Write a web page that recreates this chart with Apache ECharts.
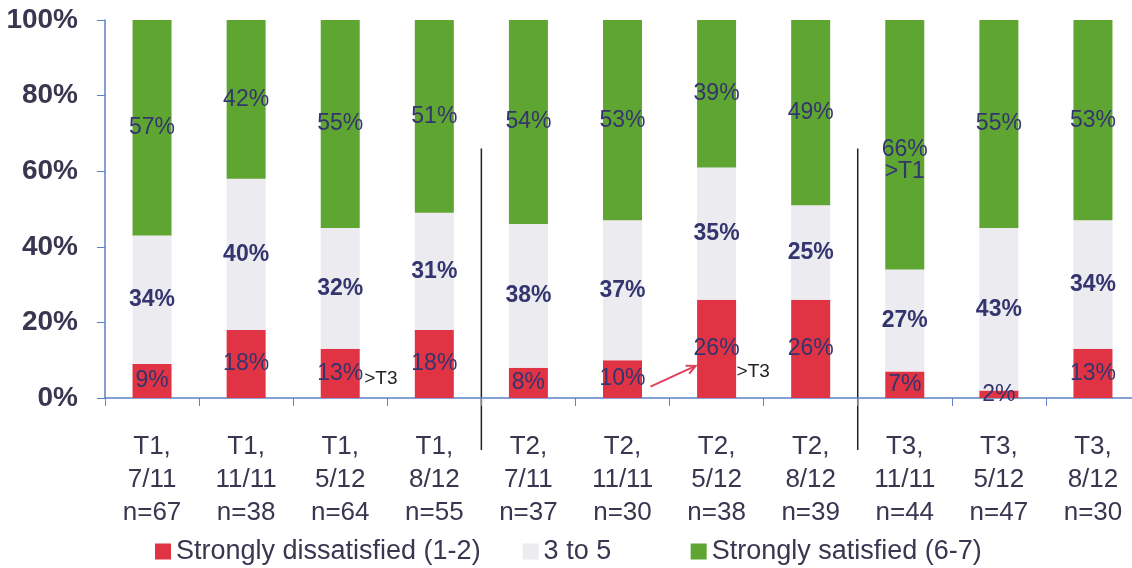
<!DOCTYPE html>
<html>
<head>
<meta charset="utf-8">
<script src="https://cdn.jsdelivr.net/npm/echarts@6/dist/echarts.min.js"></script>
<style>
  html, body { margin: 0; padding: 0; background: #fff; overflow: hidden; }
  #chart { width: 1140px; height: 568px; }
</style>
</head>
<body>
<div id="chart"></div>
<script>
const categories = [
  'T1,\n7/11\nn=67', 'T1,\n11/11\nn=38', 'T1,\n5/12\nn=64', 'T1,\n8/12\nn=55',
  'T2,\n7/11\nn=37', 'T2,\n11/11\nn=30', 'T2,\n5/12\nn=38', 'T2,\n8/12\nn=39',
  'T3,\n11/11\nn=44', 'T3,\n5/12\nn=47', 'T3,\n8/12\nn=30'
]
const dissatisfied = [9, 18, 13, 18, 8, 10, 26, 26, 7, 2, 13]
const middle = [34, 40, 32, 31, 38, 37, 35, 25, 27, 43, 34]
const satisfied = [57, 42, 55, 51, 54, 53, 39, 49, 66, 55, 53]
const yTicks = [0, 20, 40, 60, 80, 100]

const textDark = '#3b3550'
const labelNavy = '#34346e'
const font = 'Liberation Sans, Arial, sans-serif'

const chart = echarts.init(document.getElementById('chart'))

const satisfiedData = satisfied.map((v, i) => {
  if (i === 8) {
    return { value: v, label: { formatter: v + '%\n>T1', offset: [0, 16], lineHeight: 22 } }
  }
  return v
})

const valueLabel = {
  show: true,
  position: 'inside',
  formatter: p => p.value + '%',
  fontSize: 23,
  color: labelNavy,
  fontFamily: font
}

chart.setOption({
  animation: false,
  grid: { left: 105, top: 20, right: 0, height: 378 },
  legend: {
    top: 533,
    left: 150,
    itemWidth: 16,
    itemHeight: 16,
    itemGap: 42,
    icon: 'rect',
    textStyle: { fontSize: 27, color: textDark, fontFamily: font },
    formatter: name => (name === '3 to 5' ? name + '     ' : name),
    data: ['Strongly dissatisfied (1-2)', '3 to 5', 'Strongly satisfied (6-7)']
  },
  xAxis: {
    type: 'category',
    data: categories,
    axisLine: { lineStyle: { color: '#5b82c4', width: 1.5 } },
    axisTick: { show: true, length: 8, lineStyle: { color: '#5b82c4' } },
    axisLabel: {
      interval: 0,
      margin: 32,
      fontSize: 26,
      lineHeight: 33,
      color: textDark,
      fontFamily: font
    }
  },
  yAxis: {
    type: 'value',
    min: 0,
    max: 100,
    interval: 20,
    axisLine: { show: true, lineStyle: { color: '#5b82c4', width: 1.5 } },
    axisTick: { show: true, length: 8, lineStyle: { color: '#5b82c4' } },
    splitLine: { show: false },
    axisLabel: {
      margin: 27,
      fontSize: 28,
      fontWeight: 'bold',
      color: textDark,
      fontFamily: font,
      formatter: v => (yTicks.includes(v) ? v + '%' : '')
    }
  },
  series: [
    {
      name: 'Strongly dissatisfied (1-2)',
      type: 'bar',
      stack: 'all',
      barWidth: 39,
      data: dissatisfied,
      itemStyle: { color: '#e03343' },
      label: valueLabel
    },
    {
      name: '3 to 5',
      type: 'bar',
      stack: 'all',
      barWidth: 39,
      data: middle,
      itemStyle: { color: '#ebebf0' },
      label: Object.assign({}, valueLabel, { fontWeight: 'bold' })
    },
    {
      name: 'Strongly satisfied (6-7)',
      type: 'bar',
      stack: 'all',
      barWidth: 39,
      data: satisfiedData,
      itemStyle: { color: '#5fa532' },
      label: valueLabel
    }
  ]
})

// separators, arrow and ">T3" notes placed through the axes
const px = (i, v) => chart.convertToPixel({ gridIndex: 0 }, [i, v])
const step = px(1, 0)[0] - px(0, 0)[0]
const axisY = px(0, 0)[1]
const sepTop = px(0, 66)[1]
const graphics = []
;[3, 7].forEach(i => {
  const x = px(i, 0)[0] + step / 2
  graphics.push({
    type: 'line',
    shape: { x1: x, y1: sepTop, x2: x, y2: axisY + 52 },
    style: { stroke: '#222', lineWidth: 1.5 }
  })
})
const notes = [
  { i: 2, v: 5, dx: 24 },
  { i: 6, v: 7, dx: 20 }
]
notes.forEach(n => {
  const p = px(n.i, n.v)
  graphics.push({
    type: 'text',
    style: {
      x: p[0] + n.dx, y: p[1], text: '>T3', fontSize: 19,
      fill: '#222', fontFamily: font, verticalAlign: 'middle'
    }
  })
})
const a0 = px(5, 3), a1 = px(6, 8.5)
const sx = a0[0] + 28, sy = a0[1], ex = a1[0] - 21, ey = a1[1]
const ang = Math.atan2(ey - sy, ex - sx)
const hl = 10
graphics.push({
  type: 'line',
  shape: { x1: sx, y1: sy, x2: ex, y2: ey },
  style: { stroke: '#e0405a', lineWidth: 2 }
})
graphics.push({
  type: 'polyline',
  shape: {
    points: [
      [ex - hl * Math.cos(ang - 0.45), ey - hl * Math.sin(ang - 0.45)],
      [ex, ey],
      [ex - hl * Math.cos(ang + 0.45), ey - hl * Math.sin(ang + 0.45)]
    ]
  },
  style: { stroke: '#e0405a', lineWidth: 2, fill: null }
})
chart.setOption({ graphic: graphics })
</script>
</body>
</html>
